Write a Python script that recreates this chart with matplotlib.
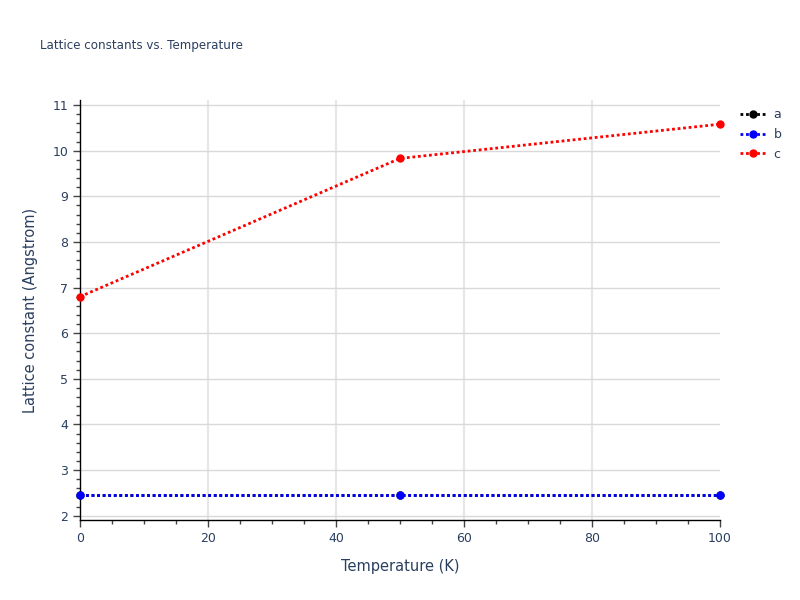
import matplotlib
matplotlib.use("Agg")
import matplotlib.pyplot as plt
from matplotlib.ticker import MultipleLocator, FixedLocator
from matplotlib.lines import Line2D

temperature = [0, 50, 100]
a_vals = [2.45, 2.45, 2.45]
b_vals = [2.45, 2.45, 2.45]
c_vals = [6.80, 9.83, 10.58]
series_names = ["a", "b", "c"]
series_colors = ["black", "blue", "red"]

txt = "#2a3f5f"
plt.rcParams['font.family'] = ['DejaVu Sans']

fig = plt.figure(figsize=(8, 6), dpi=100)
ax = fig.add_axes([0.1, 1 - 520 / 600, 0.8, 420 / 600])

for vals, name, col in zip([a_vals, b_vals, c_vals], series_names, series_colors):
    ax.plot(temperature, vals, linestyle=(0, (1, 1)), linewidth=2, color=col,
            marker="o", markersize=5, label=name, clip_on=False, zorder=3)

ax.set_xlim(0, 100)
ax.set_ylim(1.906, 11.11)
ax.xaxis.set_major_locator(MultipleLocator(20))
ax.xaxis.set_minor_locator(MultipleLocator(5))
ax.yaxis.set_major_locator(MultipleLocator(1))
ax.yaxis.set_minor_locator(MultipleLocator(0.2))

# vertical grid lines only at interior ticks
for xv in [20, 40, 60, 80]:
    ax.axvline(xv, color="#e6e6e6", linewidth=1.5, zorder=0)
ax.grid(True, which="major", axis="y", color="#d9d9d9", linewidth=1)
ax.set_axisbelow(True)

for s in ["top", "right"]:
    ax.spines[s].set_visible(False)
for s in ["left", "bottom"]:
    ax.spines[s].set_color("black")
    ax.spines[s].set_linewidth(1)

ax.tick_params(axis="both", which="major", direction="out", length=5, width=1,
               colors="#444444", labelcolor=txt, labelsize=9)
ax.tick_params(axis="both", which="minor", direction="out", length=3, width=1,
               colors="#444444")

ax.set_xlabel("Temperature (K)", color=txt, fontsize=10.5, labelpad=10)
ax.set_ylabel("Lattice constant (Angstrom)", color=txt, fontsize=10.5, labelpad=10)

fig.text(40 / 800, 1 - 45 / 600, "Lattice constants vs. Temperature", color=txt,
         fontsize=8.6, ha="left", va="center")

handles = [Line2D([0], [0], linestyle=(0, (1, 1)), linewidth=2, color=c,
                  marker="o", markersize=5) for c in series_colors]
leg = fig.legend(handles, series_names, loc="upper left",
                 bbox_to_anchor=(735 / 800, 1 - 103 / 600), frameon=False,
                 fontsize=9, handlelength=2.0, handletextpad=0.7,
                 labelspacing=0.55, borderaxespad=0)
for t in leg.get_texts():
    t.set_color(txt)

fig.savefig("out.png", dpi=100, facecolor="white")
